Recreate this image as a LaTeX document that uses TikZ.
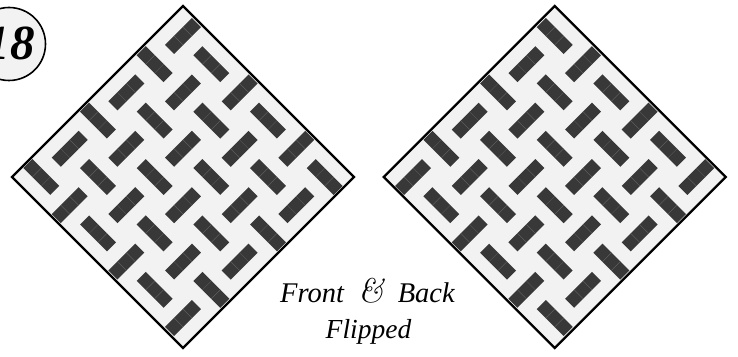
\documentclass[tikz,border=0pt]{standalone}
\usepackage{xcolor}
\usepackage{fontspec}
\setmainfont{Liberation Serif}
\newfontfamily\ampfont{Latin Modern Roman}
\definecolor{tileDark}{HTML}{383838}
\definecolor{tileSeam}{HTML}{686868}
\definecolor{fieldGray}{HTML}{F2F2F2}
\tikzset{
  field/.style={draw=black, fill=fieldGray, line width=2.2pt, miter limit=10},
  tile/.style={fill=tileDark},
  seam/.style={draw=tileSeam, line width=0.3pt},
}
% one bar of three cells, lattice position m, n, and its angle
\newcommand{\tilebar}[3]{
  \fill[tile, shift={(#1*28.33,#2*28.2)}, rotate=#3] (-19,-6.4) rectangle (19,6.4);
  \draw[seam, shift={(#1*28.33,#2*28.2)}, rotate=#3] (-6.3,-6.4) -- (-6.3,6.4) (6.3,-6.4) -- (6.3,6.4);
}
\newcommand{\tilefield}{
  \draw[field] (-171,0) -- (0,171) -- (171,0) -- (0,-171) -- cycle;
  \foreach \m/\n in {0/5, -2/3,0/3,2/3, -4/1,-2/1,0/1,2/1,4/1, -4/-1,-2/-1,0/-1,2/-1,4/-1, -2/-3,0/-3,2/-3, 0/-5}
    {\tilebar{\m}{\n}{45}}
  \foreach \m/\n in {-1/4,1/4, -3/2,-1/2,1/2,3/2, -5/0,-3/0,-1/0,1/0,3/0,5/0, -3/-2,-1/-2,1/-2,3/-2, -1/-4,1/-4}
    {\tilebar{\m}{\n}{-45}}
}
\begin{document}
\begin{tikzpicture}[x=1pt, y=1pt]
  \useasboundingbox (0,0) rectangle (738,356);
  \begin{scope}[shift={(183,179)}]
    \tilefield
  \end{scope}
  \begin{scope}[shift={(554.7,179)}, xscale=-1]
    \tilefield
  \end{scope}
  \node[draw=black, fill=fieldGray, circle, line width=1.6pt, minimum size=73pt, inner sep=0pt] (badge) at (9,312) {};
  \node[anchor=base, font=\fontsize{49}{49}\selectfont\bfseries\itshape] (number) at (10.5,296) {18};
  \node[anchor=base, font=\fontsize{28.5}{28.5}\selectfont\itshape, inner sep=0pt] (caption) at (367.5,54) {Front\hspace{7pt} {\ampfont\fontsize{34}{34}\selectfont\&} \hspace{7pt}Back};
  \node[anchor=base, font=\fontsize{27.5}{27.5}\selectfont\itshape, inner sep=0pt] (flipped) at (368.5,18) {Flipped};
\end{tikzpicture}
\end{document}
